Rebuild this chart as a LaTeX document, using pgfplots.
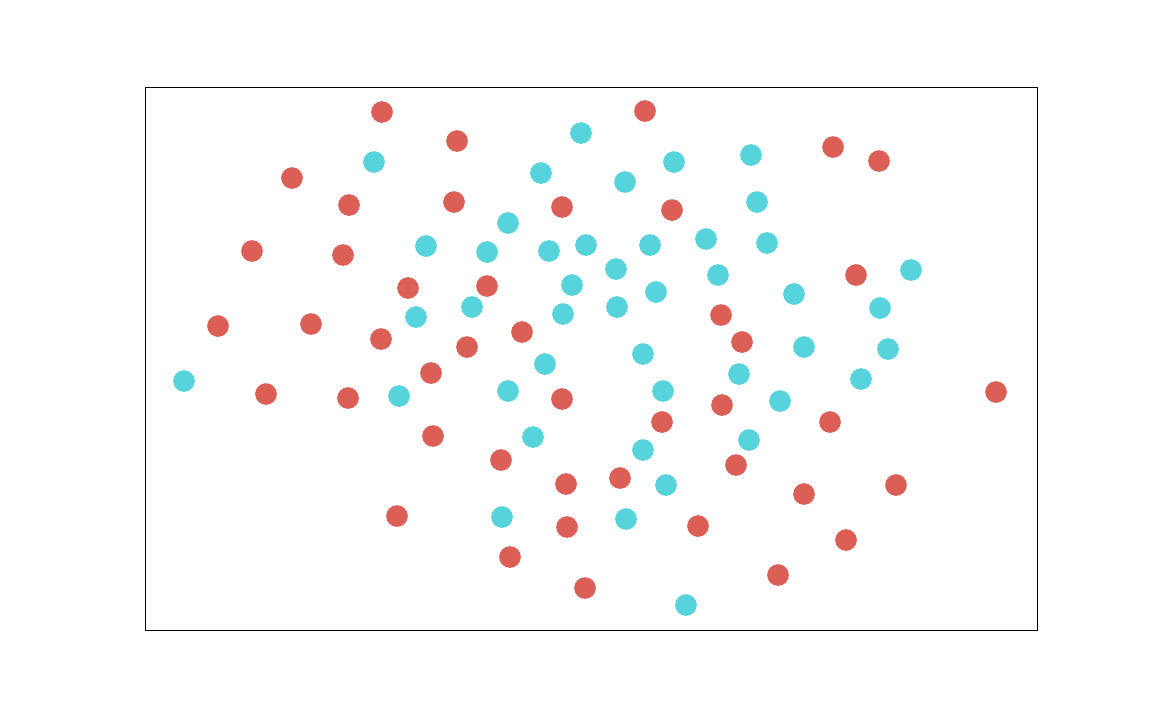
\documentclass[border=0pt]{standalone}
\usepackage{pgfplots}
\pgfplotsset{compat=1.18}
\definecolor{cred}{HTML}{DB5F57}
\definecolor{ccyan}{HTML}{57D3DB}
\begin{document}
\begin{tikzpicture}
\path (-72.5pt,-45pt) rectangle (503.5pt,315pt);
\begin{axis}[
  at={(0pt,0pt)}, anchor=south west,
  scale only axis, width=446pt, height=271.5pt,
  xmin=145, xmax=1037, ymin=87, ymax=630, y dir=reverse,
  xtick=\empty, ytick=\empty,
  axis line style={line width=0.4pt},
  clip=false,
]
\addplot[only marks, mark=*, mark size=5.2pt, color=cred, mark options={draw=cred, fill=cred}] coordinates {
(382,112) (645,111) (457,141) (292,178) (349,205) (454,202) (562,207) (672,210)
(833,147) (879,161) (252,251) (343,255) (408,288) (487,286) (856,275) (218,326)
(311,324) (381,339) (522,332) (467,347) (721,315) (742,342) (431,373) (266,394)
(348,398) (562,399) (722,405) (662,422) (830,422) (996,392) (433,436) (501,460)
(736,465) (566,484) (620,478) (896,485) (804,494) (397,516) (567,527) (698,526)
(846,540) (510,557) (778,575) (585,588)
};
\addplot[only marks, mark=*, mark size=5.2pt, color=ccyan, mark options={draw=ccyan, fill=ccyan}] coordinates {
(581,133) (374,162) (674,162) (751,155) (541,173) (625,182) (757,202) (508,223)
(426,246) (487,252) (549,251) (586,245) (650,245) (706,239) (767,243) (616,269)
(718,275) (911,270) (572,285) (656,292) (794,294) (880,308) (416,317) (472,307)
(563,314) (617,307) (643,354) (804,347) (888,349) (545,364) (739,374) (861,379)
(184,381) (399,396) (508,391) (663,391) (780,401) (533,437) (749,440) (643,450)
(666,485) (502,517) (626,519) (686,605)
};
\end{axis}
\end{tikzpicture}
\end{document}
